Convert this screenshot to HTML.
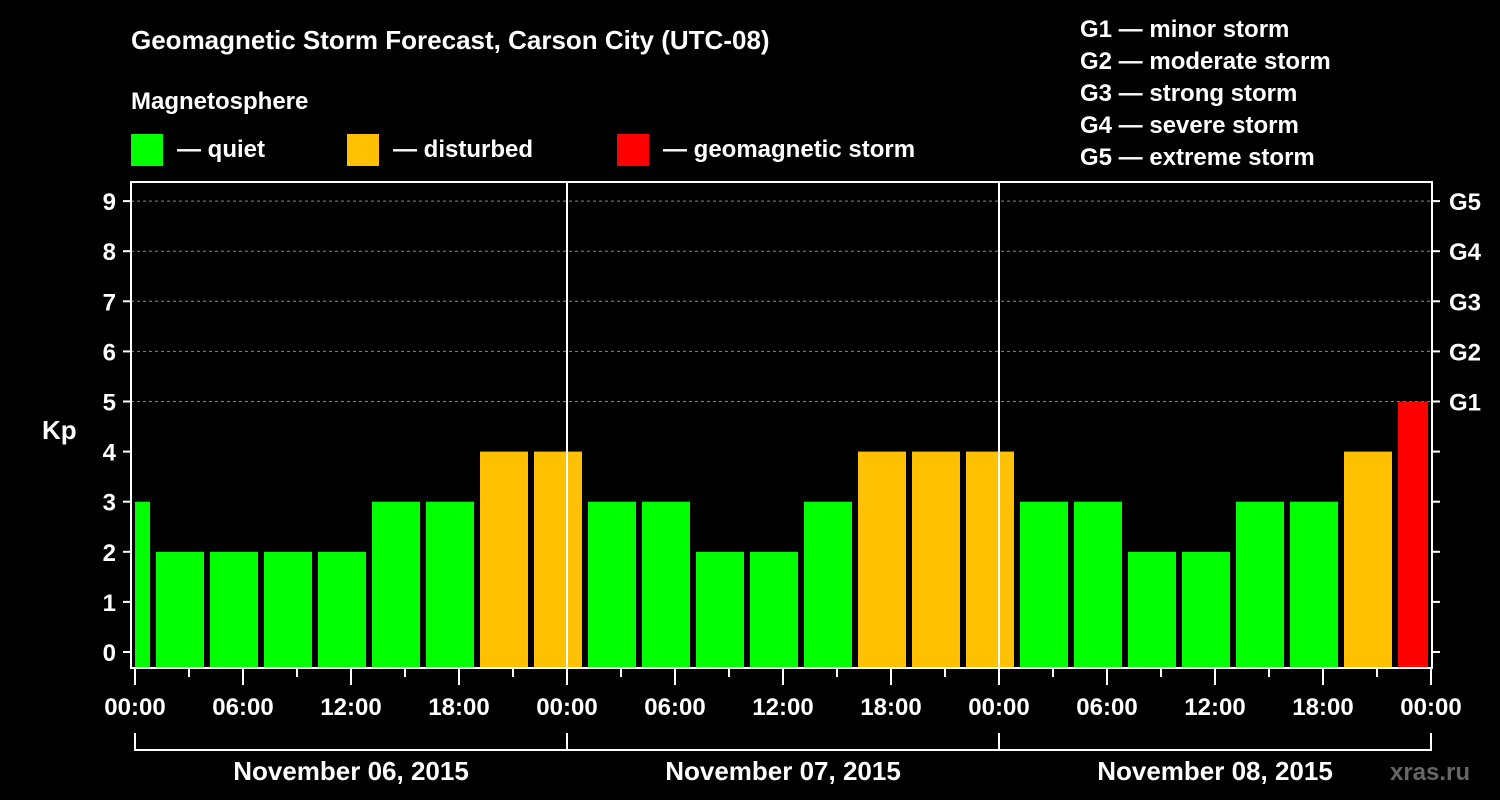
<!DOCTYPE html>
<html><head><meta charset="utf-8"><style>
html,body{margin:0;background:#000;}
svg{display:block;font-family:"Liberation Sans",Arial,sans-serif;font-weight:bold;}
</style></head><body>
<svg id="c" width="1500" height="800" xmlns="http://www.w3.org/2000/svg">
<text x="131" y="49" fill="#fff" font-size="26">Geomagnetic Storm Forecast, Carson City (UTC-08)</text>
<text x="131" y="109" fill="#fff" font-size="24">Magnetosphere</text>
<g><rect x="131" y="134" width="32" height="32" fill="#00ff00"/><text x="177" y="157" fill="#fff" font-size="24">— quiet</text></g>
<g><rect x="347" y="134" width="32" height="32" fill="#ffc000"/><text x="393" y="157" fill="#fff" font-size="24">— disturbed</text></g>
<g><rect x="617" y="134" width="32" height="32" fill="#ff0000"/><text x="663" y="157" fill="#fff" font-size="24">— geomagnetic storm</text></g>
<g fill="#fff" font-size="24">
<text x="1080" y="37">G1 — minor storm</text><text x="1080" y="69">G2 — moderate storm</text><text x="1080" y="101">G3 — strong storm</text><text x="1080" y="133">G4 — severe storm</text><text x="1080" y="165">G5 — extreme storm</text>
</g>
<text x="42" y="439" fill="#fff" font-size="26">Kp</text>
<g id="grid"></g><g id="bars"></g><g id="axes"></g>
<text x="1390" y="780" fill="#666" font-size="24">xras.ru</text>
</svg>
<script>
const kpValues=[3,2,2,2,2,3,3,4,4,3,3,2,2,3,4,4,4,3,3,2,2,3,3,4,5];
const yTicks=[0,1,2,3,4,5,6,7,8,9];
const gLabels=["G1","G2","G3","G4","G5"];
const gLevels=[5,6,7,8,9];
const xLabels=["00:00","06:00","12:00","18:00","00:00","06:00","12:00","18:00","00:00","06:00","12:00","18:00","00:00"];
const dayLabels=["November 06, 2015","November 07, 2015","November 08, 2015"];
const NS="http://www.w3.org/2000/svg";
const L=131,R=1432,T=182,B=668,X0=135,PXH=18;
const y=v=>652-v*50.1;
const x=h=>X0+h*PXH;
function mk(p,tag,a){const e=document.createElementNS(NS,tag);for(const k in a)e.setAttribute(k,a[k]);p.appendChild(e);return e;}
const grid=document.getElementById('grid'),bars=document.getElementById('bars'),axes=document.getElementById('axes');
gLevels.forEach(v=>{const l=mk(grid,'line',{x1:L,x2:R,y1:y(v),y2:y(v),stroke:'#888','stroke-dasharray':'3,3'});

});
kpValues.forEach((v,i)=>{
 let h0=i*3-2,h1=i*3+1;
 let a=Math.max(x(h0)+3,x(0)),b=Math.min(x(h1)-3,x(72)-3);
 const col=v>=5?'#ff0000':v>=4?'#ffc000':'#00ff00';
 const r=mk(bars,'rect',{x:a,y:y(v),width:b-a,height:B-1-y(v),fill:col});
 
 
});
// day separators
[24,48].forEach(h=>{const l=mk(axes,'line',{x1:x(h),x2:x(h),y1:T,y2:B,stroke:'#fff','stroke-width':2});

});
const fr=mk(axes,'rect',{x:L,y:T,width:R-L,height:B-T,fill:'none',stroke:'#fff','stroke-width':2});


yTicks.forEach(v=>{
 mk(axes,'line',{x1:L-8,x2:L,y1:y(v),y2:y(v),stroke:'#fff','stroke-width':2});
 mk(axes,'line',{x1:R,x2:R+8,y1:y(v),y2:y(v),stroke:'#fff','stroke-width':2});
 const t=mk(axes,'text',{x:L-15,y:y(v)+9,fill:'#fff','font-size':24,'text-anchor':'end'});t.textContent=v;
 
 
});
gLabels.forEach((g,i)=>{const t=mk(axes,'text',{x:R+17,y:y(gLevels[i])+9,fill:'#fff','font-size':24});t.textContent=g;

});
for(let h=0;h<=72;h+=3){const maj=h%6===0;mk(axes,'line',{x1:x(h),x2:x(h),y1:B,y2:B+(maj?17:9),stroke:'#fff','stroke-width':2});}
xLabels.forEach((s,i)=>{const t=mk(axes,'text',{x:x(i*6),y:715,fill:'#fff','font-size':24,'text-anchor':'middle'});t.textContent=s;

});
mk(axes,'path',{d:`M${x(0)},733V750H${x(72)}V733M${x(24)},733V750M${x(48)},733V750`,stroke:'#fff','stroke-width':2,fill:'none'});
dayLabels.forEach((s,i)=>{const t=mk(axes,'text',{x:x(i*24+12),y:780,fill:'#fff','font-size':26,'text-anchor':'middle'});t.textContent=s;

});
</script>
</body></html>
